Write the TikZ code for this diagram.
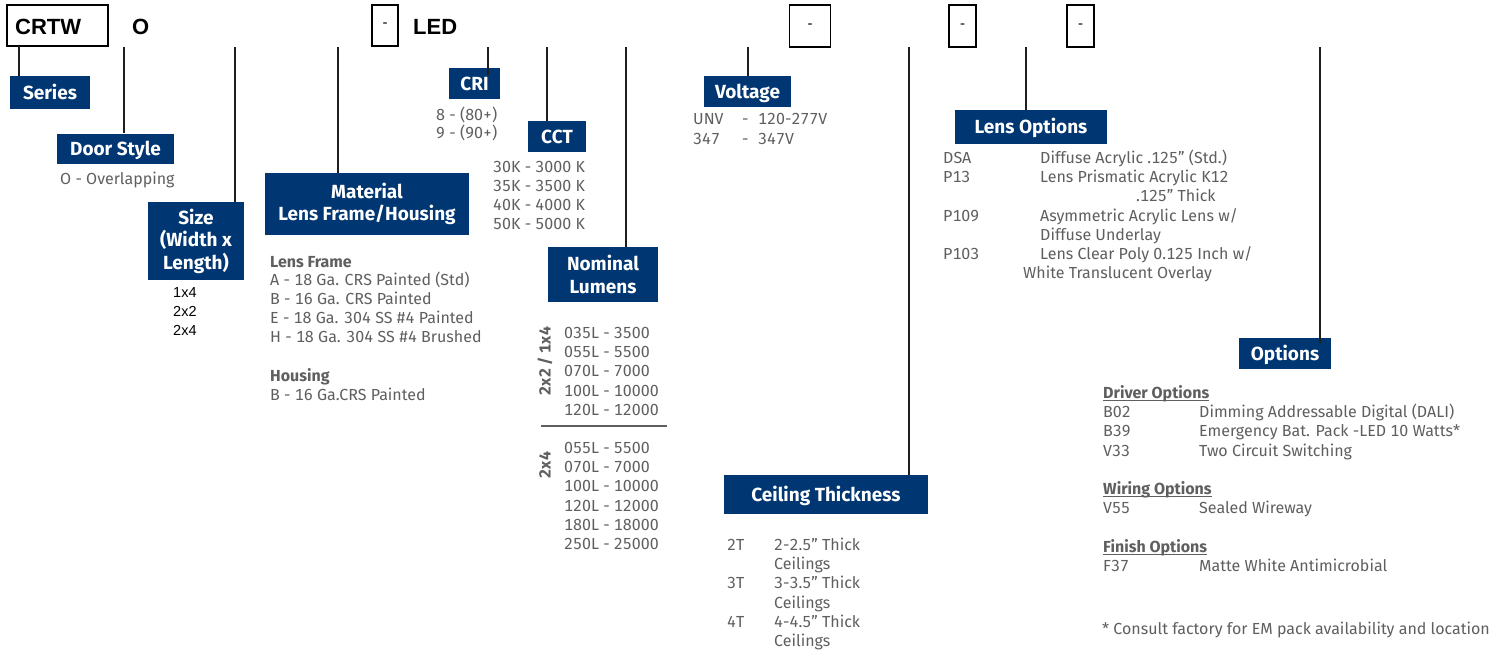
\documentclass[tikz,border=0pt]{standalone}
\usepackage{fontspec}
\setmainfont[Numbers=Monospaced]{Fira Sans}
\newfontfamily\codefont{Liberation Sans}
\definecolor{navy}{RGB}{0,54,114}
\definecolor{txtgray}{RGB}{95,95,95}
\definecolor{leadgray}{RGB}{30,30,30}
\begin{document}
\begin{tikzpicture}[x=1pt,y=-1pt,
  hdr/.style={fill=navy,text=white,font=\fontsize{19}{22.5}\selectfont\bfseries,inner sep=0pt,align=center},
  hdr1/.style={hdr,text height=13pt,text depth=0pt},
  body/.style={anchor=base west,inner sep=0pt,text=txtgray,font=\fontsize{16}{19}\selectfont},
  bodyb/.style={body,font=\fontsize{16}{19}\selectfont\bfseries},
  sizeval/.style={anchor=base west,inner sep=0pt,text=black,font=\codefont\fontsize{14.5}{19}\selectfont},
  codebox/.style={draw=black,line width=1.3pt,inner sep=0pt,fill=white},
  code/.style={anchor=base west,inner sep=0pt,font=\codefont\fontsize{22}{22}\selectfont\bfseries},
  dashtxt/.style={font=\codefont\fontsize{15}{15}\selectfont},
  lead/.style={line width=1.3pt,draw=leadgray},
  rot/.style={inner sep=0pt,rotate=90,text=txtgray,font=\fontsize{16}{19}\selectfont\bfseries}]
\useasboundingbox[fill=white] (0,0) rectangle (1510,651);

% ---- top code line ----
\node[codebox,minimum width=101pt,minimum height=41pt] (crtw) at (57.5,25.5) {};
\node[code] (crtwt) at (15,34) {CRTW};
\node[code] (ot) at (132,34) {O};
\node[codebox,minimum width=26pt,minimum height=41pt] (b1) at (385,25.5) {}; \node[dashtxt] (b1t) at (b1) {-};
\node[code] (ledt) at (413,34) {LED};
\node[codebox,minimum width=41pt,minimum height=42pt] (b2) at (810,26) {}; \node[dashtxt] (b2t) at (b2) {-};
\node[codebox,minimum width=27pt,minimum height=42pt] (b3) at (962.5,26) {}; \node[dashtxt] (b3t) at (b3) {-};
\node[codebox,minimum width=27pt,minimum height=42pt] (b4) at (1080.5,26) {}; \node[dashtxt] (b4t) at (b4) {-};

% ---- headers ----
\node[hdr1,minimum width=80pt,minimum height=33pt] (series) at (50,92.5) {Series};
\node[hdr1,minimum width=117pt,minimum height=30pt] (door) at (115.5,148.5) {Door Style};
\node[hdr,minimum width=96pt,minimum height=78pt] (size) at (196,241) {Size\\(Width x\\Length)};
\node[hdr,minimum width=204pt,minimum height=62pt] (material) at (367,204) {Material\\Lens Frame/Housing};
\node[hdr1,minimum width=51pt,minimum height=31pt] (cri) at (474.5,83.5) {CRI};
\node[hdr1,minimum width=58pt,minimum height=31pt] (cct) at (557,136.5) {CCT};
\node[hdr,minimum width=110pt,minimum height=55pt] (nominal) at (603,274.5) {Nominal\\Lumens};
\node[hdr1,minimum width=87pt,minimum height=31pt] (voltage) at (747.5,91.5) {Voltage};
\node[hdr1,minimum width=152pt,minimum height=34pt] (lensopt) at (1031,127) {Lens Options};
\node[hdr1,minimum width=204pt,minimum height=39pt] (ceiling) at (826,494.5) {Ceiling Thickness};
\node[hdr1,minimum width=92pt,minimum height=31pt] (options) at (1285,353.5) {Options};

% ---- leader tops ----
\coordinate (tseries) at (19,46);
\coordinate (tdoor) at (124,47);
\coordinate (tsize) at (235,47);
\coordinate (tmat) at (338,47);
\coordinate (tcri) at (488,47);
\coordinate (tcct) at (547,47);
\coordinate (tnom) at (626,47);
\coordinate (tvolt) at (748,47);
\coordinate (tceil) at (909,47);
\coordinate (tlens) at (1026,47);
\coordinate (topt) at (1320,47);

\draw[lead] (tseries) -- (tseries |- series.north);
\draw[lead] (tdoor) -- (tdoor |- door.north);
\draw[lead] (tsize) -- (tsize |- size.north);
\draw[lead] (tmat) -- (tmat |- material.north);
\draw[lead] (tcri) -- ([yshift=-7pt]tcri |- cri.north);
\draw[lead] (tcct) -- (tcct |- cct.north);
\draw[lead] (tnom) -- (tnom |- nominal.north);
\draw[lead] (tvolt) -- (tvolt |- voltage.north);
\draw[lead] (tceil) -- (tceil |- ceiling.north);
\draw[lead] (tlens) -- (tlens |- lensopt.north);
\draw[lead] (topt) -- ([yshift=-5pt]topt |- options.north);

% ---- door style ----
\node[body] (o1) at (60,184.5) {O - Overlapping};

% ---- size ----
\node[sizeval] (s1) at (173,297) {1x4};
\node[sizeval] (s2) at (173,316) {2x2};
\node[sizeval] (s3) at (173,335) {2x4};

% ---- material ----
\node[bodyb] (lf) at (270,267.5) {Lens Frame};
\node[body] (lfa) at (270,285.5) {A - 18 Ga. CRS Painted (Std)};
\node[body] (lfb) at (270,304.5) {B - 16 Ga. CRS Painted};
\node[body] (lfe) at (270,323.5) {E - 18 Ga. 304 SS \#4 Painted};
\node[body] (lfh) at (270,342.5) {H - 18 Ga. 304 SS \#4 Brushed};
\node[bodyb] (hs) at (270,381.5) {Housing};
\node[body] (hsb) at (270,400.5) {B - 16 Ga.CRS Painted};

% ---- CRI ----
\node[body] (cri8) at (436,120.5) {8 - (80+)};
\node[body] (cri9) at (436,138.5) {9 - (90+)};

% ---- CCT ----
\node[body] (c30) at (493,172.5) {30K - 3000 K};
\node[body] (c35) at (493,191.5) {35K - 3500 K};
\node[body] (c40) at (493,210.5) {40K - 4000 K};
\node[body] (c50) at (493,229.5) {50K - 5000 K};

% ---- nominal lumens ----
\node[rot] (r1) at (545,361) {2x2 / 1x4};
\node[rot] (r2) at (545,465) {2x4};
\node[body] (n1) at (564,338.5) {035L - 3500};
\node[body] (n2) at (564,357.5) {055L - 5500};
\node[body] (n3) at (564,376.5) {070L - 7000};
\node[body] (n4) at (564,396.5) {100L - 10000};
\node[body] (n5) at (564,415.5) {120L - 12000};
\coordinate (sepl) at (541,426);
\coordinate (sepr) at (667,426);
\draw[line width=1.3pt,draw=txtgray] (sepl) -- (sepr);
\node[body] (m1) at (564,453.5) {055L - 5500};
\node[body] (m2) at (564,472.5) {070L - 7000};
\node[body] (m3) at (564,491.5) {100L - 10000};
\node[body] (m4) at (564,511.5) {120L - 12000};
\node[body] (m5) at (564,530.5) {180L - 18000};
\node[body] (m6) at (564,549.5) {250L - 25000};

% ---- voltage ----
\node[body] (v1) at (693,124.5) {UNV};
\node[body] (v1d) at (742,124.5) {-};
\node[body] (v1v) at (758,124.5) {120-277V};
\node[body] (v2) at (693,144.5) {347};
\node[body] (v2d) at (742,144.5) {-};
\node[body] (v2v) at (758,144.5) {347V};

% ---- lens options ----
\node[body] (l1) at (943,163.5) {DSA};
\node[body] (l1d) at (1040,163.5) {Diffuse Acrylic .125'' (Std.)};
\node[body] (l2) at (943,182.5) {P13};
\node[body] (l2d) at (1040,182.5) {Lens Prismatic Acrylic K12};
\node[body] (l2e) at (1136,201.5) {.125'' Thick};
\node[body] (l3) at (943,221.5) {P109};
\node[body] (l3d) at (1040,221.5) {Asymmetric Acrylic Lens w/};
\node[body] (l3e) at (1040,240.5) {Diffuse Underlay};
\node[body] (l4) at (943,259.5) {P103};
\node[body] (l4d) at (1040,259.5) {Lens Clear Poly 0.125 Inch w/};
\node[body] (l4e) at (1023,278.5) {White Translucent Overlay};

% ---- ceiling thickness ----
\node[body] (ct2) at (727,550.5) {2T};
\node[body] (ct2d) at (774,550.5) {2-2.5'' Thick};
\node[body] (ct2e) at (774,569.5) {Ceilings};
\node[body] (ct3) at (727,588.5) {3T};
\node[body] (ct3d) at (774,588.5) {3-3.5'' Thick};
\node[body] (ct3e) at (774,608.5) {Ceilings};
\node[body] (ct4) at (727,627.5) {4T};
\node[body] (ct4d) at (774,627.5) {4-4.5'' Thick};
\node[body] (ct4e) at (774,646.5) {Ceilings};

% ---- options ----
\node[bodyb] (drv) at (1103,398.5) {Driver Options};
\draw[line width=1.1pt,draw=txtgray] ([yshift=-2pt]drv.base west) -- ([yshift=-2pt]drv.base east);
\node[body] (o02) at (1103,417.5) {B02};
\node[body] (o02d) at (1199,417.5) {Dimming Addressable Digital (DALI)};
\node[body] (o39) at (1103,436.5) {B39};
\node[body] (o39d) at (1199,436.5) {Emergency Bat. Pack -LED 10 Watts*};
\node[body] (o33) at (1103,456.5) {V33};
\node[body] (o33d) at (1199,456.5) {Two Circuit Switching};
\node[bodyb] (wir) at (1103,494.5) {Wiring Options};
\draw[line width=1.1pt,draw=txtgray] ([yshift=-2pt]wir.base west) -- ([yshift=-2pt]wir.base east);
\node[body] (o55) at (1103,513.5) {V55};
\node[body] (o55d) at (1199,513.5) {Sealed Wireway};
\node[bodyb] (fin) at (1103,552.5) {Finish Options};
\draw[line width=1.1pt,draw=txtgray] ([yshift=-2pt]fin.base west) -- ([yshift=-2pt]fin.base east);
\node[body] (o37) at (1103,571.5) {F37};
\node[body] (o37d) at (1199,571.5) {Matte White Antimicrobial};
\node[body] (cons) at (1102,634.5) {* Consult factory for EM pack availability and location};
\end{tikzpicture}
\end{document}
